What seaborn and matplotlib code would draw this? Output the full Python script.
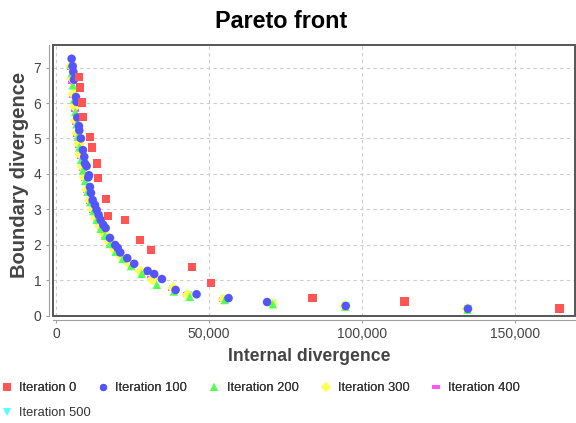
import numpy as np
import pandas as pd
import seaborn as sns
import matplotlib
matplotlib.use("Agg")
import matplotlib.pyplot as plt
from matplotlib.lines import Line2D
from matplotlib.patches import Rectangle
from matplotlib.ticker import FuncFormatter

# ---------------- data ----------------
series_names = ["Iteration 0", "Iteration 100", "Iteration 200",
                "Iteration 300", "Iteration 400", "Iteration 500"]

it0_x = [7500, 7830, 8480, 8810, 11090, 11740, 13370, 13700, 16310, 16960,
         22510, 27400, 30990, 44360, 50560, 83830, 113840, 164400]
it0_y = [6.73, 6.44, 6.02, 5.60, 5.04, 4.75, 4.30, 3.88, 3.29, 2.81,
         2.70, 2.13, 1.85, 1.37, 0.92, 0.50, 0.39, 0.19]

it100_x = [5100, 5450, 5650, 5870, 6520, 6750, 6950, 7500, 7600, 8150,
           8800, 9230, 9460, 10000, 10540, 10770, 11090, 11420, 11970, 12720,
           13280, 13930, 14580, 15430, 16210, 17620, 19340, 20130, 20980, 23260,
           25540, 29910, 32070, 34580, 39050, 45900, 56340, 68930, 94600, 134500]
it100_y = [7.25, 7.04, 6.88, 6.66, 6.17, 6.03, 5.59, 5.35, 5.23, 5.00,
           4.67, 4.48, 4.29, 4.22, 3.90, 3.96, 3.63, 3.46, 3.26, 3.12,
           2.98, 2.84, 2.70, 2.56, 2.47, 2.19, 1.99, 1.91, 1.78, 1.62,
           1.46, 1.26, 1.17, 1.03, 0.72, 0.60, 0.49, 0.38, 0.27, 0.19]

it200_x = [4900, 5200, 5500, 5900, 6300, 6700, 7100, 7600, 8200, 8800,
           9500, 10300, 11200, 12200, 13300, 14600, 16000, 17600, 19500, 21800,
           24500, 28000, 32900, 38500, 43700, 55100, 70800, 94500, 134400]
it200_y = [7.10, 6.85, 6.50, 6.10, 5.75, 5.40, 5.05, 4.75, 4.40, 4.10,
           3.80, 3.50, 3.20, 2.95, 2.70, 2.45, 2.25, 2.02, 1.80, 1.60,
           1.40, 1.18, 0.87, 0.68, 0.53, 0.44, 0.32, 0.25, 0.17]

it300_x = [4950, 5300, 5700, 6100, 6500, 7000, 7500, 8000, 8700, 9400,
           10200, 11100, 12100, 13200, 14400, 15800, 17400, 19300, 21500, 24200,
           27600, 31500, 38300, 43000, 54800, 70500, 94300, 134300]
it300_y = [7.05, 6.70, 6.25, 5.90, 5.50, 5.15, 4.85, 4.55, 4.20, 3.90,
           3.55, 3.25, 3.00, 2.75, 2.52, 2.30, 2.08, 1.85, 1.65, 1.45,
           1.24, 1.02, 0.77, 0.58, 0.46, 0.34, 0.27, 0.19]

it400_x = [5000, 5350, 5750, 6200, 6600, 7050, 7550, 8100, 8750, 9500,
           10300, 11200, 12200, 13400, 14700, 16100, 17800, 19800, 22000, 24800,
           28200, 31000, 38000, 42800, 54600, 70300, 94400]
it400_y = [7.00, 6.60, 6.20, 5.80, 5.45, 5.10, 4.80, 4.48, 4.15, 3.85,
           3.52, 3.22, 2.96, 2.70, 2.47, 2.25, 2.03, 1.82, 1.62, 1.42,
           1.20, 1.05, 0.75, 0.59, 0.45, 0.33, 0.26]

it500_x = [4950, 5300, 5700, 6150, 6550, 7000, 7500, 8050, 8700, 9450,
           10250, 11150, 12150, 13350, 14650, 16050, 17700, 19700, 21900, 24700,
           28100, 31200, 38200, 43200, 55000, 70600, 94600, 134500]
it500_y = [6.95, 6.55, 6.15, 5.75, 5.40, 5.05, 4.75, 4.45, 4.12, 3.82,
           3.50, 3.20, 2.93, 2.68, 2.45, 2.23, 2.00, 1.78, 1.58, 1.38,
           1.17, 1.00, 0.74, 0.57, 0.45, 0.33, 0.27, 0.18]

x_ticks = [0, 50000, 100000, 150000]
y_ticks = [0, 1, 2, 3, 4, 5, 6, 7]

title = "Pareto front"
x_label = "Internal divergence"
y_label = "Boundary divergence"

# ---------------- styling ----------------
colors = ["#FF5555", "#5555FF", "#55FF55", "#FFFF55", "#FF55FF", "#55FFFF"]
hrect = [(-1, -0.5), (1, -0.5), (1, 0.5), (-1, 0.5), (-1, -0.5)]
marker_list = ["s", "o", "^", "D", hrect, "v"]
palette = dict(zip(series_names, colors))
markers = dict(zip(series_names, marker_list))

xs = [it0_x, it100_x, it200_x, it300_x, it400_x, it500_x]
ys = [it0_y, it100_y, it200_y, it300_y, it400_y, it500_y]

# draw last series first so that Iteration 0 ends up on top
frames = []
for name, x, y in reversed(list(zip(series_names, xs, ys))):
    frames.append(pd.DataFrame({"x": x, "y": y, "series": name}))
df = pd.concat(frames, ignore_index=True)

sns.set_theme(style="white")
plt.rcParams["font.family"] = ["Liberation Sans", "DejaVu Sans"]

fig = plt.figure(figsize=(5.76, 4.23), dpi=100)
left, bottom, top, right = 53.3 / 576, 1 - 315.5 / 423, 1 - 45.3 / 423, 0.999
ax = fig.add_axes([left, bottom, right - left, top - bottom])

sns.scatterplot(data=df, x="x", y="y", hue="series", style="series",
                palette=palette, markers=markers, hue_order=series_names,
                style_order=series_names, s=38, linewidth=0, legend=False,
                ax=ax, zorder=3)

ax.set_xlim(-880, 169600)
ax.set_ylim(0, 7.63)
ax.set_xticks(x_ticks)
ax.set_yticks(y_ticks)
ax.xaxis.set_major_formatter(FuncFormatter(lambda v, p: f"{int(v):,}"))
ax.set_xlabel("")
ax.set_ylabel("")

ax.grid(True, color="#cccccc", linestyle=(0, (3, 3)), linewidth=0.8, zorder=0)
ax.set_axisbelow(True)

for s in ["top", "right"]:
    ax.spines[s].set_visible(False)
for s in ["left", "bottom"]:
    ax.spines[s].set_position(("outward", 2.9))
    ax.spines[s].set_color("#a0a0a0")
    ax.spines[s].set_linewidth(0.8)
ax.add_patch(Rectangle((0, 0), 1, 1, transform=ax.transAxes, fill=False,
                       edgecolor="#555555", linewidth=1.4, clip_on=False, zorder=6))

ax.tick_params(axis="both", which="major", length=2, width=0.8, color="#a0a0a0",
               pad=3.6, labelsize=10, labelcolor="#444444",
               bottom=True, left=True, direction="out")

fig.text(281 / 576, 1 - 28.3 / 423, title, ha="center", va="baseline",
         fontsize=16.8, fontweight="bold", color="black")
fig.text(309 / 576, 1 - 361 / 423, x_label, ha="center", va="baseline",
         fontsize=12.7, fontweight="bold", color="#444444")
fig.text(20 / 576, 1 - 175 / 423, y_label, ha="center", va="center",
         rotation=90, fontsize=14.5, fontweight="bold", color="#444444")

handles = []
for name, c, m in zip(series_names, colors, marker_list):
    handles.append(Line2D([], [], linestyle="none", marker=m, color=c,
                          markeredgewidth=0, markersize=5.2, label=name))

leg_kw = dict(frameon=False, fontsize=9.3, handlelength=0.8, handletextpad=0.53,
              columnspacing=1.7, borderpad=0, borderaxespad=0, labelcolor="#333333")
leg1 = fig.legend(handles=handles[:5], loc="center left",
                  bbox_to_anchor=(1.8 / 576, 1 - 388 / 423), ncol=5, **leg_kw)
fig.add_artist(leg1)
fig.legend(handles=handles[5:], loc="center left",
           bbox_to_anchor=(1.8 / 576, 1 - 413 / 423), ncol=1, **leg_kw)

fig.savefig("out.png", dpi=100)
